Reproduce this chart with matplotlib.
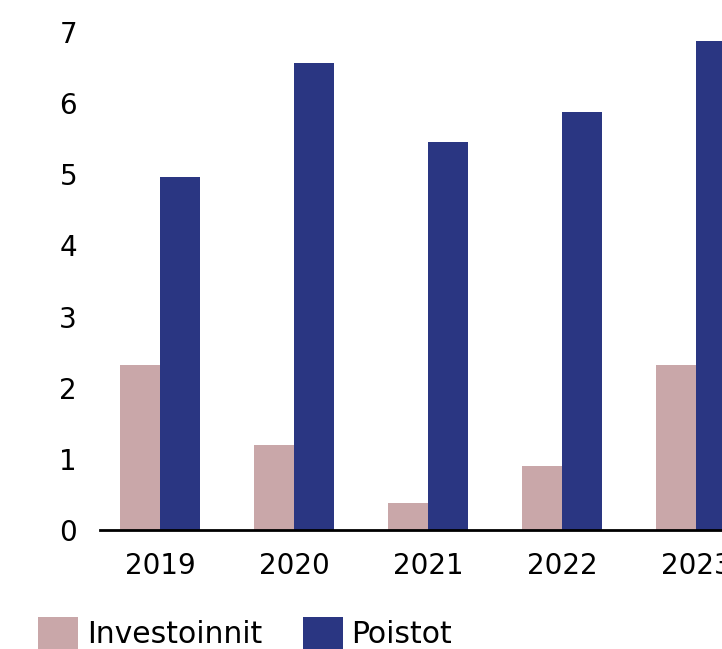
import matplotlib.pyplot as plt
import numpy as np

years = ['2019', '2020', '2021', '2022', '2023']
investoinnit = [2.32, 1.19, 0.38, 0.90, 2.32]
poistot = [4.96, 6.57, 5.46, 5.87, 6.88]

pink = '#c9a7a9'
blue = '#2a3682'

plt.rcParams['font.family'] = ['DejaVu Sans']

fig = plt.figure(figsize=(7.22, 6.49), dpi=100)
ax = fig.add_axes([100 / 722, 1 - 530 / 649, 1 - 100 / 722, (530 - 32) / 649])

x = np.arange(len(years))
w = 0.3
ax.bar(x - w / 2, investoinnit, w, color=pink, label='Investoinnit')
ax.bar(x + w / 2, poistot, w, color=blue, label='Poistot')

ax.set_xlim(-0.448, 4.194)
ax.set_ylim(0, 7)
ax.set_xticks(x)
ax.set_xticklabels(years)
ax.set_yticks(range(8))
ax.tick_params(axis='both', length=0, labelsize=20)
ax.tick_params(axis='y', pad=16.5)
ax.tick_params(axis='x', pad=16)
for s in ['top', 'right', 'left']:
    ax.spines[s].set_visible(False)
ax.spines['bottom'].set_linewidth(2)
ax.spines['bottom'].set_color('black')

fig.legend(loc='upper left', bbox_to_anchor=(38 / 722, 1 - 617 / 649), ncol=2,
           frameon=False, fontsize=21.5, handlelength=1.34, handleheight=1.3,
           handletextpad=0.3, columnspacing=1.35, borderaxespad=0, borderpad=0)

fig.savefig('out.png', dpi=100)
